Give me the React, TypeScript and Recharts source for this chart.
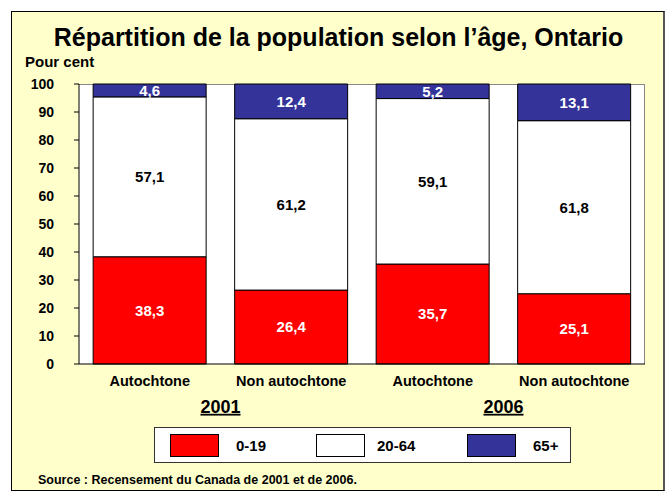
import React from 'react';
import { BarChart, Bar, XAxis, YAxis, LabelList } from 'recharts';

// categories and series (Ontario, per cent)
const categories = ['Autochtone', 'Non autochtone', 'Autochtone', 'Non autochtone'];
const years = ['2001', '2001', '2006', '2006'];
const age0to19 = [38.3, 26.4, 35.7, 25.1];
const age20to64 = [57.1, 61.2, 59.1, 61.8];
const age65plus = [4.6, 12.4, 5.2, 13.1];
const yTicks = [0, 10, 20, 30, 40, 50, 60, 70, 80, 90, 100];

const series = [
  { key: 'a0', name: '0-19', values: age0to19, fill: '#FF0000', text: '#ffffff' },
  { key: 'a1', name: '20-64', values: age20to64, fill: '#ffffff', text: '#000000' },
  { key: 'a2', name: '65+', values: age65plus, fill: '#333399', text: '#ffffff' },
];

const data = categories.map((c, i) => {
  const row: Record<string, string | number> = { cat: c, year: years[i] };
  series.forEach((s) => { row[s.key] = s.values[i]; });
  return row;
});

const FONT = '"Liberation Sans", Arial, sans-serif';
const W = 667;
const H = 493;
const M = { top: 84, right: 22, bottom: 69, left: 19 };
const Y_W = 60;

const fmt = (v: number) => v.toFixed(1).replace('.', ',');

export default function App() {
  const plotLeft = M.left + Y_W;
  const plotTop = M.top;
  const plotW = W - plotLeft - M.right;
  const plotH = H - M.top - M.bottom - 60;

  return (
    <div style={{ position: 'absolute', left: 0, top: 0, width: W, height: H, fontFamily: FONT }}>
      <div
        style={{
          position: 'absolute', left: 11, top: 11, width: 651, height: 478,
          background: '#FFFFCC', border: '1px solid #000', borderRightWidth: 2, borderRightColor: '#555',
        }}
      />
      <div
        style={{
          position: 'absolute', left: plotLeft, top: plotTop, width: plotW, height: plotH,
          background: '#fff', borderTop: '1px solid #888', borderRight: '1px solid #888', boxSizing: 'border-box',
        }}
      />
      <div style={{ position: 'absolute', left: 0, top: 26, width: 677, textAlign: 'center', fontSize: 25, lineHeight: '22px', fontWeight: 'bold' }}>
        Répartition de la population selon l’âge, Ontario
      </div>
      <div style={{ position: 'absolute', left: 25, top: 54, fontSize: 15, lineHeight: '15px', fontWeight: 'bold' }}>
        Pour cent
      </div>

      <div style={{ position: 'absolute', left: 0, top: 0 }}>
        <BarChart width={W} height={H} data={data} margin={M} barCategoryGap="10%">
          <YAxis
            width={Y_W}
            domain={[0, 100]}
            ticks={yTicks}
            interval={0}
            tickSize={5}
            tickMargin={20}
            axisLine={{ stroke: '#000' }}
            tickLine={{ stroke: '#000' }}
            tick={{ fill: '#000', fontSize: 14, fontWeight: 'bold', fontFamily: FONT }}
          />
          <XAxis
            dataKey="cat"
            height={30}
            interval={0}
            tickLine={false}
            tickSize={6}
            tickMargin={6}
            axisLine={{ stroke: '#000' }}
            tick={{ fill: '#000', fontSize: 14.5, fontWeight: 'bold', fontFamily: FONT }}
          />
          <XAxis
            xAxisId="year"
            dataKey="year"
            allowDuplicatedCategory={false}
            height={30}
            interval={0}
            axisLine={false}
            tickLine={false}
            tickSize={0}
            tickMargin={6}
            tick={{ fill: '#000', fontSize: 18, fontWeight: 'bold', fontFamily: FONT, textDecoration: 'underline' }}
          />
          {series.map((s) => (
            <Bar key={s.key} dataKey={s.key} name={s.name} stackId="s" fill={s.fill} stroke="#000" strokeWidth={1} isAnimationActive={false}>
              <LabelList
                dataKey={s.key}
                position="center"
                formatter={(v: number) => fmt(v)}
                style={{ fill: s.text, fontSize: 15, fontWeight: 'bold', fontFamily: FONT }}
              />
            </Bar>
          ))}
        </BarChart>
      </div>

      <div
        style={{
          position: 'absolute', left: 154, top: 427, width: 417, height: 36, boxSizing: 'border-box',
          background: '#fff', border: '1px solid #333', display: 'flex', alignItems: 'center', paddingLeft: 15,
        }}
      >
        {series.map((s, i) => (
          <div key={s.key} style={{ display: 'flex', alignItems: 'center', width: i === 0 ? 146 : 151, flexShrink: 0 }}>
            <div style={{ width: 49, height: 23, background: s.fill, border: '1px solid #000', boxSizing: 'border-box', marginRight: i === 1 ? 12 : 17, flexShrink: 0 }} />
            <span style={{ fontSize: 15, fontWeight: 'bold' }}>{s.name}</span>
          </div>
        ))}
      </div>

      <div style={{ position: 'absolute', left: 38, top: 474, fontSize: 12.5, lineHeight: '13px', fontWeight: 'bold' }}>
        Source : Recensement du Canada de 2001 et de 2006.
      </div>
    </div>
  );
}
